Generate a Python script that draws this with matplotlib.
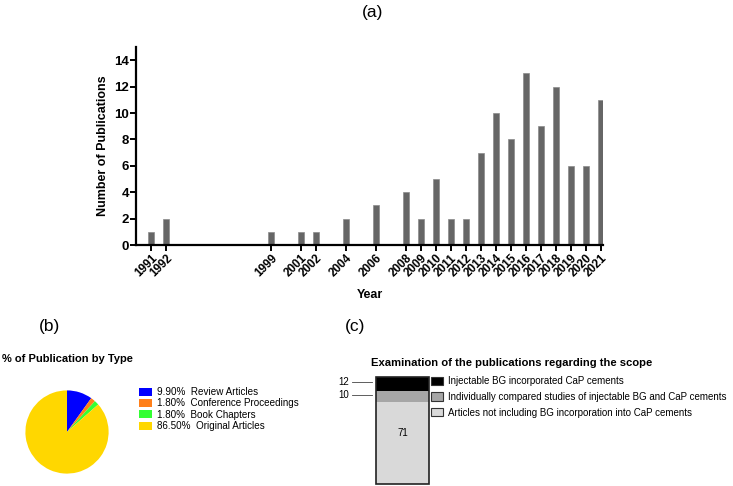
import matplotlib
matplotlib.use("Agg")
import matplotlib.pyplot as plt
from matplotlib.patches import Patch

plt.rcParams['font.family'] = ['Liberation Sans', 'DejaVu Sans']

# ---- data ----
years = [1991, 1992, 1999, 2001, 2002, 2004, 2006, 2008, 2009, 2010, 2011,
         2012, 2013, 2014, 2015, 2016, 2017, 2018, 2019, 2020, 2021]
counts = [1, 2, 1, 1, 1, 2, 3, 4, 2, 5, 2, 2, 7, 10, 8, 13, 9, 12, 6, 6, 11]
yticks = [0, 2, 4, 6, 8, 10, 12, 14]

pie_labels = ["Review Articles", "Conference Proceedings", "Book Chapters", "Original Articles"]
pie_values = [9.90, 1.80, 1.80, 86.50]
pie_colors = ["#0000FF", "#FF7F1A", "#33FF33", "#FFD700"]

scope_labels = ["Articles not including BG incorporation into CaP cements",
                "Individually compared studies of injectable BG and CaP cements",
                "Injectable BG incorporated CaP cements"]
scope_values = [71, 10, 12]
scope_colors = ["#D9D9D9", "#A6A6A6", "#000000"]

W, H = 733, 486
fig = plt.figure(figsize=(W / 100, H / 100), dpi=100)


def box(x0, y0, x1, y1):
    return [x0 / W, 1 - y1 / H, (x1 - x0) / W, (y1 - y0) / H]


# ---- panel (a) ----
ax = fig.add_axes(box(136, 47, 603, 245))
ax.bar(years, counts, width=0.4, color="#666666", edgecolor="#8a8a8a", linewidth=0.5, zorder=2)
ax.set_xlim(1990, 2021.15)
ax.set_ylim(0, 15)
ax.set_yticks(yticks)
ax.set_xticks(years)
ax.set_xticklabels([str(y) for y in years], rotation=45, ha="right", rotation_mode="anchor",
                   fontsize=8.5, fontweight="bold")
for lbl in ax.get_yticklabels():
    lbl.set_fontweight("bold")
    lbl.set_fontsize(9.5)
ax.spines["top"].set_visible(False)
ax.spines["right"].set_visible(False)
ax.spines["left"].set_linewidth(1.6)
ax.spines["bottom"].set_linewidth(1.6)
ax.tick_params(axis="both", width=1.4, length=4, direction="out", pad=1)
ax.set_ylabel("Number of Publications", fontsize=9, fontweight="bold", labelpad=4)
ax.set_xlabel("Year", fontsize=9, fontweight="bold", labelpad=7)

fig.text(373 / W, 1 - 12 / H, "(a)", fontsize=12.5, ha="center", va="center")

# ---- panel (b) ----
fig.text(49 / W, 1 - 327 / H, "(b)", fontsize=12.5, ha="center", va="center")
fig.text(2 / W, 1 - 359 / H, "% of Publication by Type", fontsize=8.0, fontweight="bold",
         ha="left", va="center")
axp = fig.add_axes(box(15, 380, 119, 484))
axp.pie(pie_values, colors=pie_colors, startangle=90, counterclock=False,
        wedgeprops=dict(linewidth=0))
axp.set_aspect("equal")
handles = [Patch(facecolor=c, edgecolor="none") for c in pie_colors]
labels = [f"{v:.2f}%  {l}" for v, l in zip(pie_values, pie_labels)]
fig.legend(handles, labels, loc="upper left", bbox_to_anchor=(139 / W, 1 - 387 / H),
           frameon=False, fontsize=7.1, handlelength=1.35, handleheight=0.9,
           handletextpad=0.5, labelspacing=0.14, borderpad=0, borderaxespad=0)

# ---- panel (c) ----
fig.text(355 / W, 1 - 327 / H, "(c)", fontsize=12.5, ha="center", va="center")
fig.text(371 / W, 1 - 363 / H, "Examination of the publications regarding the scope",
         fontsize=8.15, fontweight="bold", ha="left", va="center")
axc = fig.add_axes(box(376, 377, 429, 484))
total = sum(scope_values)
bottom = 0
centers = []
for v, c in zip(scope_values, scope_colors):
    axc.bar(0, v, bottom=bottom, width=1.0, color=c, edgecolor="none")
    centers.append(bottom + v / 2)
    bottom += v
axc.bar(0, total, width=1.0, fill=False, edgecolor="#222222", linewidth=1.2, clip_on=False)
axc.set_xlim(-0.5, 0.5)
axc.set_ylim(0, total)
axc.axis("off")

# value label inside the large segment
axc.text(0, scope_values[0] * 0.62, str(scope_values[0]), ha="center", va="center", fontsize=7)
# labels with leader lines for the small segments
xf0 = (352 - 376) / 53 - 0.5
xf1 = (372 - 376) / 53 - 0.5
for v, cy in zip(scope_values[1:], centers[1:]):
    yy = cy + 1.5
    axc.plot([xf0, xf1], [yy, yy], color="#444444", lw=0.6, clip_on=False)
    axc.text(xf0 - 0.06, yy, str(v), ha="right", va="center", fontsize=7, clip_on=False)

hc = [Patch(facecolor=c, edgecolor="#333333", linewidth=0.8) for c in scope_colors[::-1]]
fig.legend(hc, scope_labels[::-1], loc="upper left", bbox_to_anchor=(431 / W, 1 - 376 / H),
           frameon=False, fontsize=7.0, handlelength=1.25, handleheight=0.9,
           handletextpad=0.45, labelspacing=0.6, borderpad=0, borderaxespad=0)

fig.savefig("out.png", dpi=100)
